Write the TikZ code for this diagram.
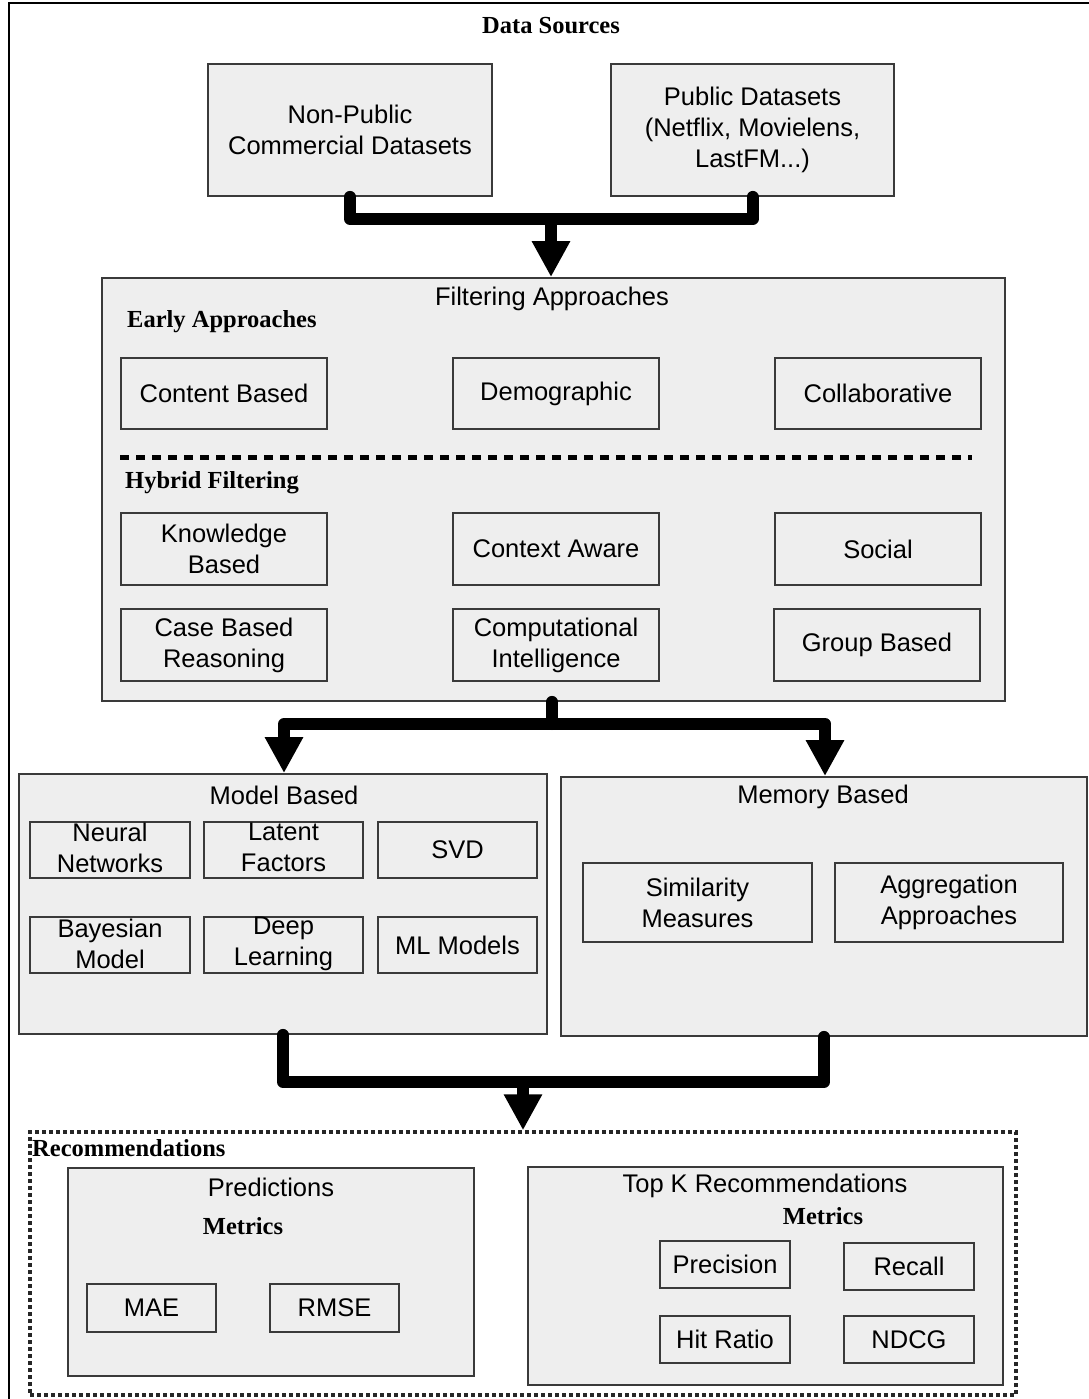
\documentclass[tikz,border=0pt]{standalone}
\usepackage{fontspec}
\setmainfont{Liberation Serif}
\setsansfont{Liberation Sans}
\usetikzlibrary{arrows.meta}
\definecolor{boxc}{HTML}{EEEEEE}
\definecolor{bordc}{HTML}{3A3A3A}
\newcommand\sansfnt{\sffamily\fontsize{25.5}{31}\selectfont}
\newcommand\seriffnt{\rmfamily\bfseries\fontsize{24.5}{28}\selectfont}
\begin{document}
\begin{tikzpicture}[x=1pt,y=-1pt,
  box/.style={draw=bordc, fill=boxc, line width=1.8pt, inner sep=0pt, align=center, font=\sansfnt},
  stitle/.style={inner sep=0pt, font=\sansfnt},
  rtitle/.style={inner sep=0pt, font=\seriffnt},
  conn/.style={line width=12pt, line cap=round, line join=round, black},
  arr/.style={line cap=butt, -{Triangle[length=36pt,width=36pt]}},
  sepline/.style={line width=5pt, dash pattern=on 9pt off 7pt, black},
  dotframe/.style={draw=black!85, line width=3.4pt, dash pattern=on 4pt off 3pt, inner sep=0pt}]
\useasboundingbox (0,0) rectangle (1088,1399);
\fill[white] (0,0) rectangle (1088,1399);
% outer frame
\coordinate (fbl) at (9,1402);
\coordinate (ftl) at (9,3);
\coordinate (ftr) at (1092,3);
\draw[line width=2pt, black] (fbl) -- (ftl) -- (ftr);

% Data sources
\node[rtitle] (dstitle) at (551,26) {Data Sources};
\node[box, minimum width=284pt, minimum height=132pt] (np) at (350,130) {Non-Public\\Commercial Datasets};
\node[box, minimum width=283pt, minimum height=132pt] (pub) at (752.5,130) {Public Datasets\\(Netflix, Movielens,\\LastFM...)};

% Filtering approaches
\node[box, minimum width=903pt, minimum height=423pt] (filt) at (553.5,489.5) {};
\node[stitle] (filttitle) at (552,299) {Filtering Approaches};
\node[rtitle, anchor=west] (early) at (127,322) {Early Approaches};
\node[box, minimum width=206pt, minimum height=71pt] (cb) at (224,393.5) {Content Based};
\node[box, minimum width=206pt, minimum height=71pt] (demo) at (556,393.5) {Demographic};
\node[box, minimum width=206pt, minimum height=71pt] (coll) at (878,393.5) {Collaborative};
\coordinate (sepL) at (120,457);
\coordinate (sepR) at (972,457);
\draw[sepline] (sepL) -- (sepR);
\node[rtitle, anchor=west] (hybrid) at (125,483) {Hybrid Filtering};
\node[box, minimum width=206pt, minimum height=72pt] (know) at (224,549) {Knowledge\\Based};
\node[box, minimum width=206pt, minimum height=72pt] (ctx) at (556,549) {Context Aware};
\node[box, minimum width=206pt, minimum height=72pt] (soc) at (878,549) {Social};
\node[box, minimum width=206pt, minimum height=72pt] (case) at (224,645) {Case Based\\Reasoning};
\node[box, minimum width=206pt, minimum height=72pt] (comp) at (556,645) {Computational\\Intelligence};
\node[box, minimum width=206pt, minimum height=72pt] (group) at (877,645) {Group Based};

% Model based
\node[box, minimum width=528pt, minimum height=260pt] (model) at (283,904) {};
\node[stitle] (modeltitle) at (284,795) {Model Based};
\node[box, minimum width=160pt, minimum height=56pt] (nn) at (110,850) {};
\node[box, minimum width=159pt, minimum height=56pt] (lf) at (283.5,850) {};
\node[box, minimum width=159pt, minimum height=56pt] (svd) at (457.5,850) {SVD};
\node[box, minimum width=160pt, minimum height=56pt] (bay) at (110,945) {};
\node[box, minimum width=159pt, minimum height=56pt] (deep) at (283.5,945) {};
\node[box, minimum width=159pt, minimum height=56pt] (ml) at (457.5,945) {ML Models};
\node[stitle, align=center] (nnt) at (110,847.5) {Neural\\Networks};
\node[stitle, align=center] (lft) at (283.5,847.5) {Latent\\Factors};
\node[stitle, align=center] (bayt) at (110,944) {Bayesian\\Model};
\node[stitle, align=center] (deept) at (283.5,944) {Deep\\Learning};

% Memory based
\node[box, minimum width=526pt, minimum height=259pt] (mem) at (824,906.5) {};
\node[stitle] (memtitle) at (823,797) {Memory Based};
\node[box, minimum width=229pt, minimum height=79pt] (sim) at (697.5,902.5) {Similarity\\Measures};
\node[box, minimum width=228pt, minimum height=79pt] (agg) at (949,902.5) {Aggregation\\Approaches};

% Recommendations
\node[dotframe, minimum width=986pt, minimum height=263pt] (rec) at (523,1263.5) {};
\node[rtitle, anchor=west] (rectitle) at (32,1148) {Recommendations};
\node[box, minimum width=406pt, minimum height=208pt] (pred) at (271,1272) {};
\node[stitle] (predtitle) at (271,1187) {Predictions};
\node[rtitle] (predmet) at (243,1226) {Metrics};
\node[box, minimum width=129pt, minimum height=48pt] (mae) at (151.5,1308) {MAE};
\node[box, minimum width=129pt, minimum height=48pt] (rmse) at (334.5,1308) {RMSE};
\node[box, minimum width=475pt, minimum height=218pt] (topk) at (765.5,1276) {};
\node[stitle] (topktitle) at (765,1186) {Top K Recommendations};
\node[rtitle] (topkmet) at (823,1216) {Metrics};
\node[box, minimum width=130pt, minimum height=47pt] (prec) at (725,1264.5) {Precision};
\node[box, minimum width=130pt, minimum height=47pt] (recall) at (909,1266.5) {Recall};
\node[box, minimum width=130pt, minimum height=47pt] (hit) at (725,1339.5) {Hit Ratio};
\node[box, minimum width=130pt, minimum height=47pt] (ndcg) at (909,1339.5) {NDCG};

% connectors
\coordinate (j1) at (551,219);
\draw[conn] (np.south) |- (j1) -| (pub.south);
\draw[conn, arr] (j1) -- (j1 |- filt.north);

\coordinate (j2) at (552,724);
\coordinate (l2) at (284,724);
\coordinate (r2) at (825,724);
\draw[conn] (j2 |- filt.south) -- (j2);
\draw[conn] (l2) -- (r2);
\draw[conn, arr] (l2) -- (l2 |- model.north);
\draw[conn, arr] (r2) -- (r2 |- mem.north);

\coordinate (j3) at (523,1082);
\draw[conn] (model.south) |- (j3) -| (mem.south);
\draw[conn, arr] (j3) -- (j3 |- rec.north);
\end{tikzpicture}
\end{document}
